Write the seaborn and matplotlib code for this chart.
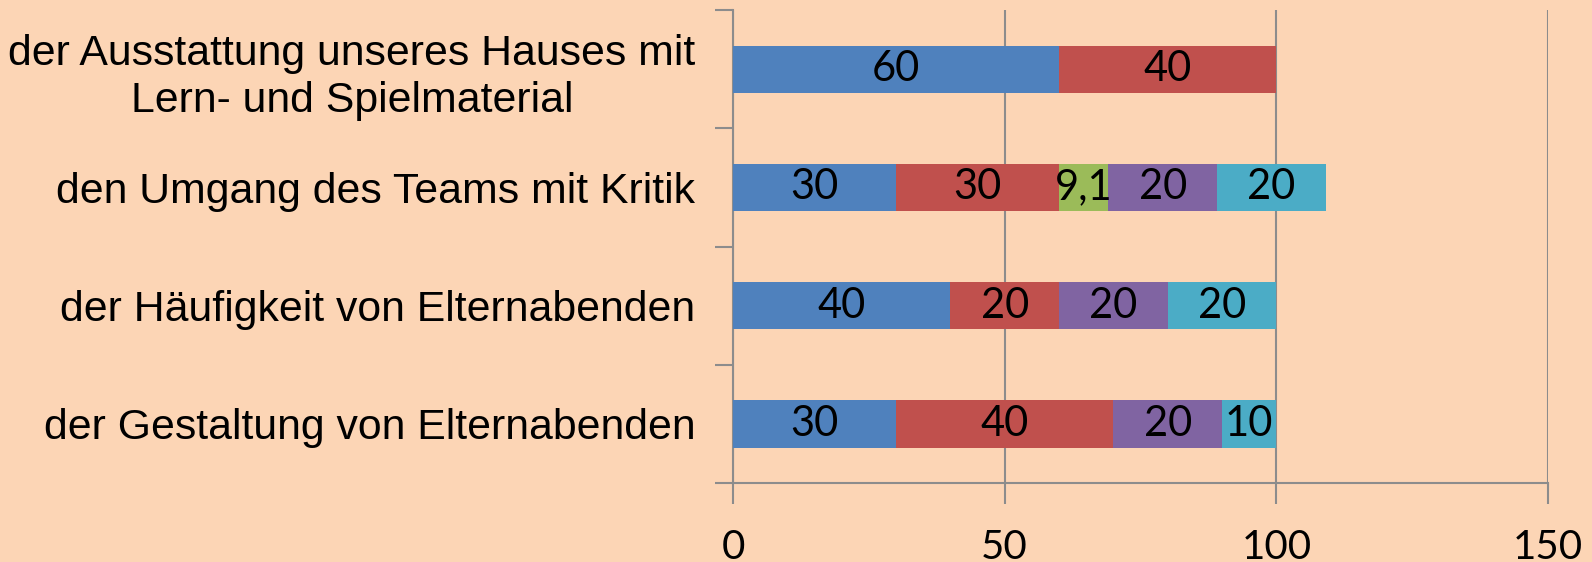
import numpy as np
import matplotlib
matplotlib.use("Agg")
import matplotlib.pyplot as plt
import seaborn as sns

# data (rows top to bottom)
categories = ["der Ausstattung unseres Hauses mit\nLern- und Spielmaterial",
              "den Umgang des Teams mit Kritik",
              "der Häufigkeit von Elternabenden",
              "der Gestaltung von Elternabenden"]
s1 = [60, 30, 40, 30]
s2 = [40, 30, 20, 40]
s3 = [0, 9.1, 0, 0]
s4 = [0, 20, 20, 20]
s5 = [0, 20, 20, 10]
series = [s1, s2, s3, s4, s5]
colors = ["#4F81BD", "#C0504D", "#9BBB59", "#8064A2", "#4BACC6"]
x_ticks = [0, 50, 100, 150]

bg = "#FCD5B5"
grid_c = "#8C8C8C"

sns.set_style("white")
plt.rcParams["font.family"] = ["Liberation Sans", "DejaVu Sans"]

fig = plt.figure(figsize=(15.92, 5.62), dpi=100, facecolor=bg)
ax = fig.add_axes([0.4604, 0.1406, 0.9724 - 0.4604, 0.982 - 0.1406])
ax.set_facecolor(bg)

# stacked bars: draw cumulative totals, largest first
cum = np.cumsum(np.array(series, dtype=float), axis=0)
for i in range(len(series) - 1, -1, -1):
    sns.barplot(x=cum[i], y=categories, orient="h", color=colors[i],
                width=0.4, linewidth=0, saturation=1, ax=ax, zorder=3)

# segment labels
for i, vals in enumerate(series):
    for j, v in enumerate(vals):
        if v == 0:
            continue
        txt = f"{v:g}".replace(".", ",")
        ax.text(cum[i][j] - v / 2, j, txt, ha="center", va="center",
                fontsize=30, family=["Lato", "DejaVu Sans"], color="black", zorder=4)

ax.set_xlim(0, 150)
ax.set_ylim(3.5, -0.5)
ax.set_xticks(x_ticks)
ax.set_xticklabels([str(t) for t in x_ticks], fontsize=29,
                   family=["Lato", "DejaVu Sans"], color="black")
ax.tick_params(axis="x", bottom=True, length=15, width=1.5, color=grid_c,
               pad=18, direction="out")
ax.xaxis.grid(True, color=grid_c, linewidth=1.5, zorder=0)
ax.set_axisbelow(True)

ax.tick_params(axis="y", which="major", left=True, length=0, pad=27,
               labelsize=30.8, labelcolor="black")
for lbl in ax.get_yticklabels():
    lbl.set_horizontalalignment("right")
    lbl.set_multialignment("center")
    lbl.set_linespacing(1.25)
ax.set_yticks([-0.5, 0.5, 1.5, 2.5, 3.5], minor=True)
ax.tick_params(axis="y", which="minor", left=True, length=13, width=1.5,
               color=grid_c, direction="out")

for side in ["top", "right"]:
    ax.spines[side].set_visible(False)
for side in ["left", "bottom"]:
    ax.spines[side].set_color(grid_c)
    ax.spines[side].set_linewidth(1.5)

ax.set_xlabel("")
ax.set_ylabel("")

fig.savefig("out.png", dpi=100, facecolor=bg)
